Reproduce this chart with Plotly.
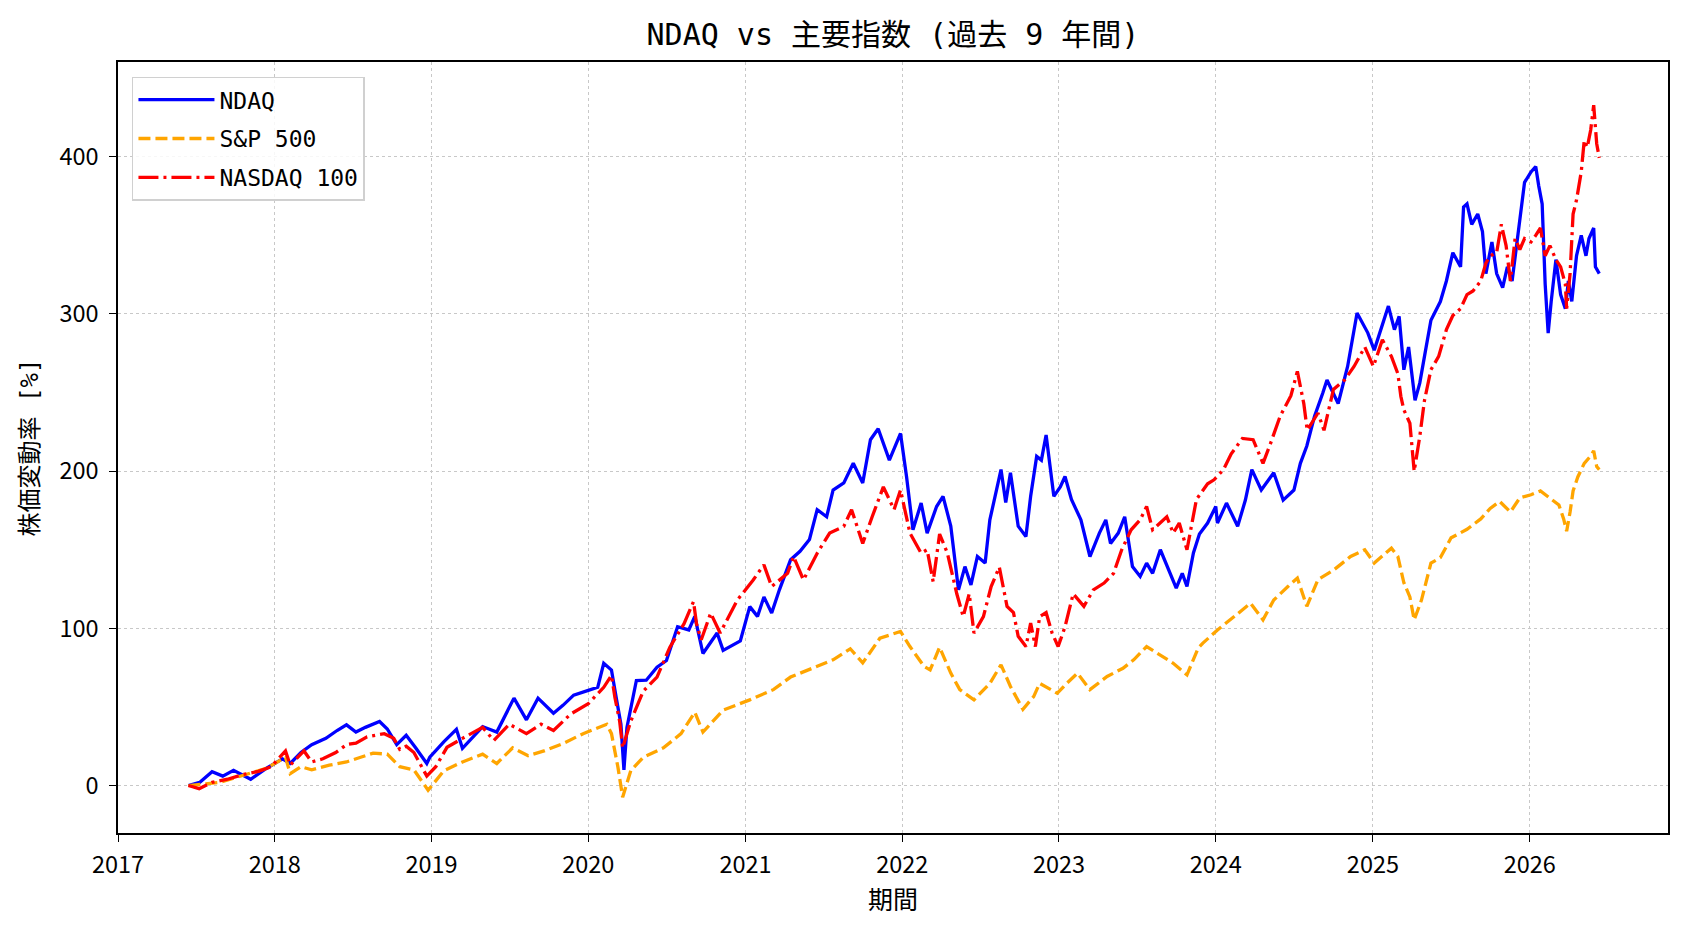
import plotly.graph_objects as go

# ---------------- data ----------------
ndaq_dates = ["2017-06-14","2017-07-10","2017-08-08","2017-09-02","2017-09-27","2017-11-06","2017-12-13",
 "2018-01-19","2018-02-06","2018-03-03","2018-03-28","2018-04-30","2018-05-26","2018-06-17","2018-07-09",
 "2018-07-31","2018-09-02","2018-09-20","2018-10-12","2018-11-03","2018-11-25","2018-12-21","2018-12-28",
 "2019-01-30","2019-02-28","2019-03-14","2019-04-30","2019-06-02","2019-07-12","2019-08-10","2019-09-06",
 "2019-10-12","2019-11-03","2019-11-28","2020-01-01","2020-01-23","2020-02-06","2020-02-24","2020-03-06",
 "2020-03-17","2020-03-24","2020-03-31","2020-04-22","2020-05-15","2020-06-09","2020-07-01","2020-07-27",
 "2020-08-22","2020-09-05","2020-09-24","2020-10-27","2020-11-10","2020-12-20","2021-01-11","2021-01-29",
 "2021-02-13","2021-03-03","2021-03-21","2021-04-16","2021-05-08","2021-05-30","2021-06-17","2021-07-09",
 "2021-07-24","2021-08-18","2021-09-09","2021-10-01","2021-10-19","2021-11-06","2021-12-02","2021-12-28",
 "2022-01-11","2022-01-26","2022-02-14","2022-02-28","2022-03-22","2022-04-06","2022-04-24","2022-05-12",
 "2022-05-27","2022-06-10","2022-06-25","2022-07-13","2022-07-24","2022-08-19","2022-08-30","2022-09-10",
 "2022-09-28","2022-10-16","2022-10-27","2022-11-10","2022-11-21","2022-12-02","2022-12-20","2023-01-04",
 "2023-01-15","2023-01-30","2023-02-21","2023-03-14","2023-04-05","2023-04-20","2023-05-01","2023-05-19",
 "2023-06-03","2023-06-21","2023-07-09","2023-07-24","2023-08-07","2023-08-25","2023-09-16","2023-10-01",
 "2023-10-15","2023-10-26","2023-11-10","2023-11-24","2023-12-13","2024-01-01","2024-01-05","2024-01-26",
 "2024-02-21","2024-03-10","2024-03-25","2024-04-16","2024-05-15","2024-06-06","2024-07-01","2024-07-16",
 "2024-07-31","2024-08-18","2024-09-06","2024-09-16","2024-10-12","2024-11-03","2024-11-25","2024-12-20",
 "2025-01-04","2025-01-19","2025-02-06","2025-02-20","2025-03-03","2025-03-14","2025-03-25","2025-04-09",
 "2025-04-20","2025-05-01","2025-05-16","2025-06-07","2025-06-21","2025-07-06","2025-07-24","2025-07-31",
 "2025-08-08","2025-08-19","2025-09-02","2025-09-13","2025-09-21","2025-10-05","2025-10-16","2025-10-30",
 "2025-11-10","2025-11-21","2025-12-06","2025-12-20","2026-01-04","2026-01-15","2026-01-22","2026-01-30",
 "2026-02-06","2026-02-13","2026-02-20","2026-03-03","2026-03-14","2026-03-25","2026-04-01","2026-04-09",
 "2026-04-20","2026-05-01","2026-05-12","2026-05-19","2026-05-30","2026-06-03","2026-06-12"]
ndaq_values = [0,2,8.8,6,9.7,4,11,
 17,14,21,26,30,35,38.6,34,
 37,40.7,36,26,32,24,14,18,
 28,35.8,23.7,37.5,34,55.6,41.8,55.6,
 46,51,57.5,60.5,62.5,77.8,73.5,56,
 39,10,37,66.8,67,75.3,79.5,101,
 99,107.6,84,97,86,92,113.8,107.6,
 120,109.7,124.5,143.6,149,156.5,175.5,171,
 188,192.5,205,192.5,220,227,207,224,
 196.6,162.7,179.7,160.6,177.5,184,165,124.5,
 139.3,127.6,145.7,141.5,169,201,180,199,
 165,158.4,184,209.4,207,223,184,190,
 196.6,182,169,145.7,160.6,169,154,160.6,
 171,139.3,133,141.5,135,150,135,125.6,
 135,126.6,148,160,167,177.5,167,179.7,
 164.9,181.6,201,188,199,181.6,188,205,
 216,235,249.6,258,243,266.6,300.6,288,
 277,290,305,290,298.5,264.5,279,245,
 256,273,296,307.9,321,339,330,368,
 370,357,363.6,352.5,325.7,345.8,325.7,316.8,
 330,321,352.5,383.7,390.4,393.8,381.5,370,
 319,287.8,307.9,334.6,312.3,303.4,321,308,
 337,350,337,348,354.7,330,325.7]

sp_dates = ["2017-06-14","2017-07-20","2017-08-25","2017-10-01","2017-11-06","2017-12-13","2018-01-26",
 "2018-02-06","2018-03-03","2018-03-28","2018-05-08","2018-06-17","2018-07-20","2018-08-18","2018-09-20",
 "2018-10-19","2018-11-21","2018-12-24","2019-01-30","2019-03-14","2019-04-30","2019-06-02","2019-07-09",
 "2019-08-14","2019-09-20","2019-11-03","2019-12-20","2020-02-13","2020-02-24","2020-03-10","2020-03-21",
 "2020-04-09","2020-05-08","2020-06-24","2020-08-04","2020-09-05","2020-09-24","2020-11-10","2021-01-11",
 "2021-03-07","2021-04-16","2021-06-17","2021-07-24","2021-09-02","2021-10-01","2021-11-10","2021-12-28",
 "2022-01-19","2022-02-21","2022-03-07","2022-03-29","2022-04-24","2022-05-15","2022-06-17","2022-07-24",
 "2022-08-19","2022-09-10","2022-10-09","2022-11-03","2022-11-17","2022-12-28","2023-01-19","2023-02-13",
 "2023-03-14","2023-04-23","2023-05-30","2023-06-24","2023-07-24","2023-08-25","2023-09-24","2023-10-26",
 "2023-11-21","2023-12-02","2024-01-05","2024-02-13","2024-03-22","2024-04-20","2024-05-15","2024-06-17",
 "2024-07-09","2024-07-31","2024-08-26","2024-10-01","2024-11-10","2024-12-13","2025-01-04","2025-02-13",
 "2025-02-28","2025-03-14","2025-03-28","2025-04-07","2025-04-24","2025-05-16","2025-06-07","2025-07-02",
 "2025-08-08","2025-09-09","2025-10-01","2025-10-23","2025-11-17","2025-12-09","2026-01-04","2026-01-26",
 "2026-02-17","2026-03-10","2026-03-21","2026-03-28","2026-04-05","2026-04-12","2026-04-23","2026-05-08",
 "2026-05-23","2026-05-30","2026-06-06","2026-06-12"]
sp_values = [0,1,2,5,8,11,18,
 7.5,12,10,13,15,18,20.6,20,
 12,10,-3,9.5,15,20,14,24,
 19,22,26.7,33,39,33,11.7,-7.4,
 9.5,18,24,33,46.6,34,48,54.5,
 61,69,75.7,80,87,78,93.7,98,
 88.4,75.7,73.5,88,71.5,61,54.5,65,
 76.8,63,48.5,56.6,65,58.7,65,71.5,
 61,69.4,74.6,80,88.4,83,77.8,70.4,
 87.4,90.6,99,107.5,116,105.4,118,126.6,
 132,114,131,137,145.7,150,141.5,151,
 145.7,129,120,105.4,118,141.5,145,157.6,
 163,169.6,176.3,180.8,174,183,185,187.4,
 183,178.5,169.6,161.8,174,187.4,196.3,205,
 209.7,213,203,201]

ndx_dates = ["2017-06-14","2017-07-09","2017-08-08","2017-09-13","2017-10-19","2017-11-24","2017-12-24",
 "2018-01-26","2018-02-06","2018-03-10","2018-03-28","2018-04-23","2018-05-23","2018-06-17","2018-07-09",
 "2018-08-04","2018-09-13","2018-10-05","2018-10-19","2018-11-03","2018-11-21","2018-12-21","2019-01-11",
 "2019-02-06","2019-03-14","2019-04-09","2019-04-30","2019-05-26","2019-07-01","2019-08-10","2019-09-13",
 "2019-10-12","2019-11-21","2020-01-01","2020-02-06","2020-02-24","2020-03-03","2020-03-14","2020-03-21",
 "2020-04-09","2020-05-08","2020-06-09","2020-07-09","2020-08-11","2020-09-02","2020-09-09","2020-09-20",
 "2020-10-12","2020-11-03","2020-12-13","2021-01-19","2021-02-13","2021-03-03","2021-04-09","2021-04-23",
 "2021-05-16","2021-06-17","2021-07-16","2021-08-18","2021-09-05","2021-10-01","2021-10-23","2021-11-18",
 "2021-12-13","2021-12-28","2022-01-19","2022-02-14","2022-02-28","2022-03-14","2022-03-29","2022-04-16",
 "2022-05-08","2022-05-23","2022-06-06","2022-06-17","2022-07-09","2022-07-27","2022-08-15","2022-09-02",
 "2022-09-17","2022-09-28","2022-10-16","2022-10-27","2022-11-07","2022-11-17","2022-12-02","2022-12-16",
 "2022-12-30","2023-01-15","2023-02-03","2023-02-28","2023-03-22","2023-04-16","2023-05-08","2023-05-27",
 "2023-06-18","2023-07-09","2023-07-24","2023-08-07","2023-09-09","2023-09-24","2023-10-08","2023-10-26",
 "2023-11-17","2023-12-13","2023-12-28","2024-01-19","2024-02-06","2024-03-03","2024-03-28","2024-04-20",
 "2024-05-08","2024-05-30","2024-06-24","2024-07-09","2024-07-24","2024-08-01","2024-08-26","2024-09-09",
 "2024-10-01","2024-10-27","2024-11-18","2024-12-13","2025-01-02","2025-01-23","2025-02-13","2025-02-28",
 "2025-03-07","2025-03-14","2025-03-28","2025-04-07","2025-04-20","2025-05-01","2025-05-16","2025-06-03",
 "2025-06-21","2025-07-06","2025-07-24","2025-08-08","2025-08-22","2025-09-09","2025-09-21","2025-10-01",
 "2025-10-16","2025-10-27","2025-11-07","2025-11-17","2025-11-28","2025-12-09","2025-12-20","2026-01-04",
 "2026-01-15","2026-01-26","2026-02-06","2026-02-17","2026-03-03","2026-03-14","2026-03-25","2026-03-28",
 "2026-04-05","2026-04-12","2026-04-20","2026-05-01","2026-05-08","2026-05-15","2026-05-23","2026-05-30",
 "2026-06-06","2026-06-12"]
ndx_values = [0,-2,2,4,7,9,12,
 22,13,22,15,17,21,26,27,
 31,33,30,23,25,21,6,12,
 24.3,30,34,37,28.7,39,33,39,
 35,45.5,52,62.5,70,56,41,24,
 41,60,69,88,103,117,103,92.7,
 109.7,97,118,130.8,140.4,126.6,135,145.7,
 130.8,147.8,160.6,164.9,175.5,154,171,190,
 175.5,188,160.6,147.8,150,129.7,160,148,
 122,107.5,122,97,107.5,126.6,139,114,
 110,95,88.4,103.3,88.4,107.5,110,97,
 88.4,101,122,114,124.5,128.8,135,150,
 162.7,169,177.5,162.7,171,160.6,167,150,
 182,192,194.5,201,211,220.8,220,205,
 218,235,248,263.5,243,226,237,226,
 252,258,266.6,279,266.6,283.6,273,262,
 247.6,239,230.5,200,222,245,264.5,273,
 290,299,303.4,312.3,314.6,321,332.4,337,
 339,357,343.5,321,348,341,348,345.8,
 350,354.7,337,343.5,334.6,330,319,303.4,
 325.7,363.6,372.5,390.4,410.5,406,417,432.8,
 408.3,399.3]

year_ticks = ["2017-01-01","2018-01-01","2019-01-01","2020-01-01","2021-01-01",
              "2022-01-01","2023-01-01","2024-01-01","2025-01-01","2026-01-01"]
year_labels = ["2017","2018","2019","2020","2021","2022","2023","2024","2025","2026"]
y_ticks = [0, 100, 200, 300, 400]

FONT = "Noto Sans CJK JP"
MONO = "DejaVu Sans Mono, Noto Sans CJK JP"

fig = go.Figure()
fig.add_trace(go.Scatter(x=ndaq_dates, y=ndaq_values, mode="lines", name="NDAQ", legendgroup="a",
                         line=dict(color="#0000ff", width=3.3)))
fig.add_trace(go.Scatter(x=sp_dates, y=sp_values, mode="lines", name="S&P 500", legendgroup="b",
                         line=dict(color="#ffa500", width=3.3, dash="12px,5px")))
fig.add_trace(go.Scatter(x=ndx_dates, y=ndx_values, mode="lines", name="NASDAQ 100", legendgroup="c",
                         line=dict(color="#ff0000", width=3.3, dash="20px,5px,3px,5px")))

axis_common = dict(showline=True, linecolor="black", linewidth=1.5, mirror=True,
                   ticks="outside", ticklen=7, tickwidth=1.3, tickcolor="black",
                   showgrid=True, gridcolor="#c8c8c8", gridwidth=1.2, griddash="dot",
                   zeroline=False, tickfont=dict(family=FONT, size=23.5, color="black"))

fig.update_layout(
    width=1688, height=932,
    margin=dict(l=118, r=20, t=62, b=99),
    paper_bgcolor="white", plot_bgcolor="white",
    font=dict(family=FONT, color="black"),
    title=dict(text="NDAQ vs 主要指数 (過去 9 年間)", x=0.5, xanchor="center", xref="paper",
               y=1 - 34/932, yanchor="middle", yref="container",
               font=dict(family=MONO, size=30, color="black")),
    xaxis=dict(axis_common, type="date", range=["2017-01-01", "2026-11-19"],
               tickmode="array", tickvals=year_ticks, ticktext=year_labels,
               ticklabelstandoff=3,
               title=dict(text="期間", font=dict(family=FONT, size=25), standoff=12)),
    yaxis=dict(axis_common, range=[-30.2, 460.3], tickmode="array", tickvals=y_ticks,
               ticklabelstandoff=6,
               title=dict(text="株価変動率 [%]", font=dict(family=MONO, size=24), standoff=14)),
    legend=dict(x=0.009, y=0.981, xanchor="left", yanchor="top",
                bgcolor="rgba(255,255,255,0.85)", bordercolor="#d0d0d0", borderwidth=1.5,
                font=dict(family=MONO, size=23, color="black"), tracegroupgap=6,
                itemwidth=76),
    showlegend=True,
)

fig.write_html("out.html")
